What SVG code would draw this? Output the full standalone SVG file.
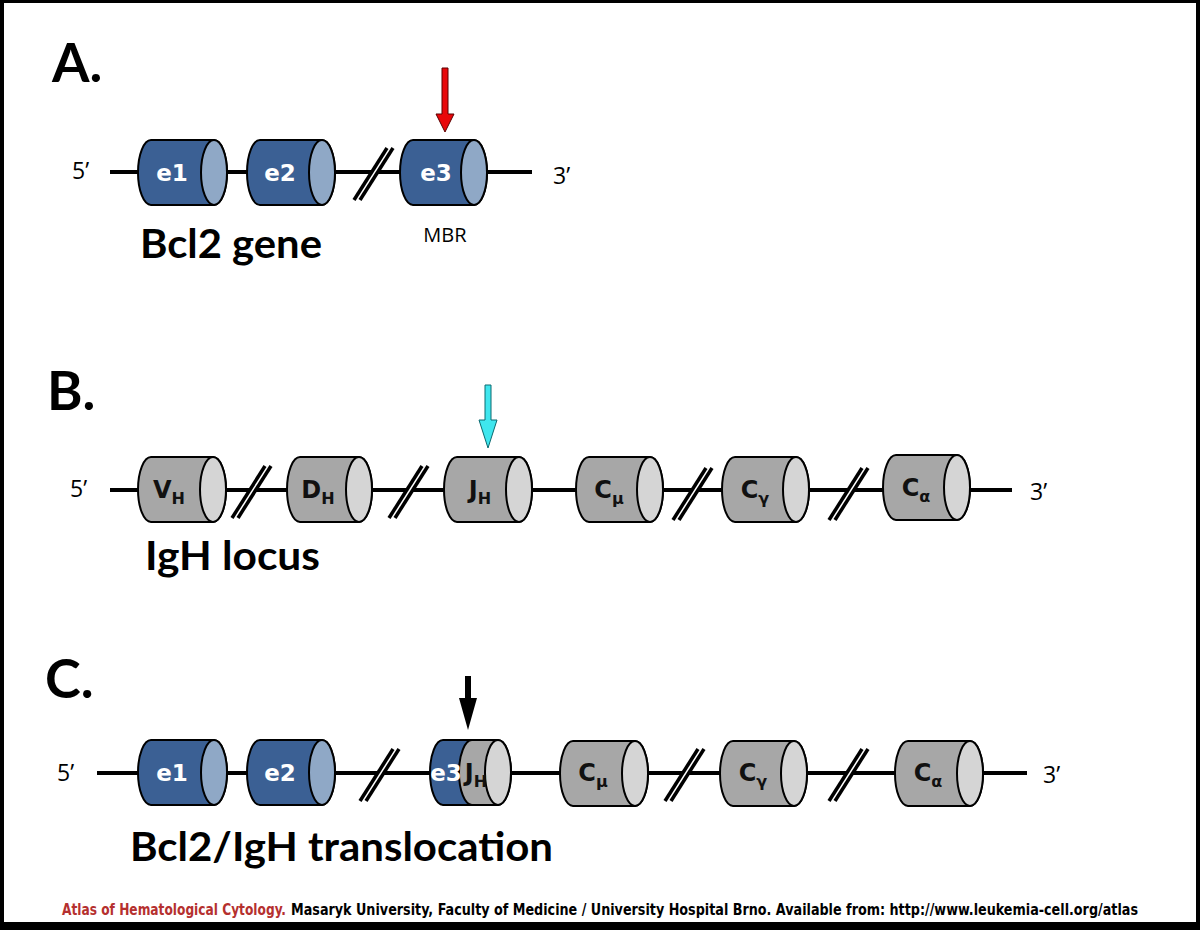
<svg xmlns="http://www.w3.org/2000/svg" xmlns:xlink="http://www.w3.org/1999/xlink" width="1200" height="930" viewBox="0 0 1200 930">
<style>
.dna{stroke:#000;stroke-width:4;fill:none}
.bb{fill:#3b6094;stroke:#000;stroke-width:2}
.bc{fill:#8fa8c6;stroke:#000;stroke-width:2}
.gb{fill:#a7a7a7;stroke:#000;stroke-width:2}
.gc{fill:#d5d5d5;stroke:#000;stroke-width:2}
.el{font-family:"DejaVu Sans",sans-serif;font-weight:bold;font-size:23px;fill:#fff;text-anchor:middle}
.gl{font-family:"DejaVu Sans",sans-serif;font-weight:bold;font-size:24px;fill:#111;text-anchor:middle}
.sub{font-size:16px}
.head{font-family:Lato,"Open Sans",sans-serif;font-weight:bold;fill:#000}
.end{font-family:"Open Sans","DejaVu Sans",sans-serif;font-size:23px;fill:#000}
.foot{font-family:"Liberation Sans Narrow","DejaVu Sans Condensed","Liberation Sans",sans-serif;font-weight:bold;font-size:13px}
</style>
<defs>
<g id="slash">
<polygon points="-19,27 -13,27 20,-25 14,-25" fill="#fff"/>
<line x1="-19" y1="27" x2="14" y2="-25" stroke="#000" stroke-width="3.5"/>
<line x1="-13" y1="27" x2="20" y2="-25" stroke="#000" stroke-width="3.5"/>
</g>
</defs>
<rect x="0" y="0" width="1200" height="930" fill="#fff"/>
<path d="M0,0H1200V930H0Z M4,3V922H1196V3Z" fill="#000" fill-rule="evenodd"/>

<!-- Section A -->
<text class="head" x="52" y="82" font-size="54">A.</text>
<g id="connectors">
<line class="dna" x1="110" y1="172" x2="532" y2="172"/>
<line class="dna" x1="110" y1="490" x2="1012" y2="490"/>
<line class="dna" x1="97" y1="773" x2="1027" y2="773"/>
<use xlink:href="#slash" href="#slash" x="373" y="173"/>
<use xlink:href="#slash" href="#slash" x="251" y="491"/>
<use xlink:href="#slash" href="#slash" x="408" y="491"/>
<use xlink:href="#slash" href="#slash" x="692" y="493"/>
<use xlink:href="#slash" href="#slash" x="848" y="493"/>
<use xlink:href="#slash" href="#slash" x="379" y="774"/>
<use xlink:href="#slash" href="#slash" x="684" y="774"/>
<use xlink:href="#slash" href="#slash" x="848" y="774"/>
</g>
<text class="end" x="72" y="179">5’</text>
<text class="end" x="553" y="184">3’</text>

<g id="A-e1">
<path class="bb" d="M151,140H214A13,32.5 0 0 1 214,205H151A13,32.5 0 0 1 151,140Z"/>
<ellipse class="bc" cx="214" cy="172.5" rx="13" ry="32.5"/>
<text class="el" x="172" y="181">e1</text>
</g>
<g id="A-e2">
<path class="bb" d="M260,140H322A13,32.5 0 0 1 322,205H260A13,32.5 0 0 1 260,140Z"/>
<ellipse class="bc" cx="322" cy="172.5" rx="13" ry="32.5"/>
<text class="el" x="280" y="181">e2</text>
</g>
<g id="A-e3">
<path class="bb" d="M413,140H474A13,32.5 0 0 1 474,205H413A13,32.5 0 0 1 413,140Z"/>
<ellipse class="bc" cx="474" cy="172.5" rx="13" ry="32.5"/>
<text class="el" x="436" y="181">e3</text>
</g>
<g id="A-arrow">
<polygon points="442,68 448,68 448,114 454,114 445,132 436,114 442,114" fill="#e8070a" stroke="#5a0000" stroke-width="1"/>
</g>
<text x="445" y="242" font-family="'Open Sans','DejaVu Sans',sans-serif" font-size="20" text-anchor="middle">MBR</text>
<text class="head" x="140" y="258" font-size="41" textLength="182" lengthAdjust="spacingAndGlyphs">Bcl2 gene</text>

<!-- Section B -->
<text class="head" x="47" y="410" font-size="54">B.</text>
<text class="end" x="70" y="497">5’</text>
<text class="end" x="1030" y="500">3’</text>

<g id="B-VH">
<path class="gb" d="M151,457H213A13,32.5 0 0 1 213,522H151A13,32.5 0 0 1 151,457Z"/>
<ellipse class="gc" cx="213" cy="489.5" rx="13" ry="32.5"/>
<text class="gl" x="169" y="498">V<tspan class="sub" dy="6">H</tspan></text>
</g>
<g id="B-DH">
<path class="gb" d="M300,457H359A13,32.5 0 0 1 359,522H300A13,32.5 0 0 1 300,457Z"/>
<ellipse class="gc" cx="359" cy="489.5" rx="13" ry="32.5"/>
<text class="gl" x="318" y="498">D<tspan class="sub" dy="6">H</tspan></text>
</g>
<g id="B-JH">
<path class="gb" d="M457,457H519A13,32.5 0 0 1 519,522H457A13,32.5 0 0 1 457,457Z"/>
<ellipse class="gc" cx="519" cy="489.5" rx="13" ry="32.5"/>
<text class="gl" x="480" y="498">J<tspan class="sub" dy="6">H</tspan></text>
</g>
<g id="B-Cmu">
<path class="gb" d="M589,457H650A13,32.5 0 0 1 650,522H589A13,32.5 0 0 1 589,457Z"/>
<ellipse class="gc" cx="650" cy="489.5" rx="13" ry="32.5"/>
<text class="gl" x="609" y="498">C<tspan class="sub" dy="6">μ</tspan></text>
</g>
<g id="B-Cgamma">
<path class="gb" d="M735,457H796A13,32.5 0 0 1 796,522H735A13,32.5 0 0 1 735,457Z"/>
<ellipse class="gc" cx="796" cy="489.5" rx="13" ry="32.5"/>
<text class="gl" x="755" y="498">C<tspan class="sub" dy="6">γ</tspan></text>
</g>
<g id="B-Calpha">
<path class="gb" d="M896,455H957A13,32.5 0 0 1 957,520H896A13,32.5 0 0 1 896,455Z"/>
<ellipse class="gc" cx="957" cy="487.5" rx="13" ry="32.5"/>
<text class="gl" x="916" y="496">C<tspan class="sub" dy="6">α</tspan></text>
</g>
<g id="B-arrow">
<polygon points="485,385 491,385 491,420 497,420 488,448 479,420 485,420" fill="#3fe6ee" stroke="#0b6a70" stroke-width="1"/>
</g>
<text class="head" x="145" y="570" font-size="41" textLength="175" lengthAdjust="spacingAndGlyphs">IgH locus</text>

<!-- Section C -->
<text class="head" x="45" y="698" font-size="54">C.</text>
<text class="end" x="57" y="781">5’</text>
<text class="end" x="1043" y="783">3’</text>

<g id="C-e1">
<path class="bb" d="M151,740H214A13,32.5 0 0 1 214,805H151A13,32.5 0 0 1 151,740Z"/>
<ellipse class="bc" cx="214" cy="772.5" rx="13" ry="32.5"/>
<text class="el" x="172" y="781">e1</text>
</g>
<g id="C-e2">
<path class="bb" d="M260,740H322A13,32.5 0 0 1 322,805H260A13,32.5 0 0 1 260,740Z"/>
<ellipse class="bc" cx="322" cy="772.5" rx="13" ry="32.5"/>
<text class="el" x="280" y="781">e2</text>
</g>
<g id="C-e3JH">
<path class="bb" d="M443,740H480V805H443A13,32.5 0 0 1 443,740Z"/>
<path class="gb" d="M472,740H498A13,32.5 0 0 1 498,805H472A13,32.5 0 0 1 472,740Z"/>
<ellipse class="gc" cx="498" cy="772.5" rx="13" ry="32.5"/>
<text class="el" x="446" y="781">e3</text>
<text class="gl" x="476" y="781" font-size="22">J<tspan class="sub" dy="6">H</tspan></text>
</g>
<g id="C-Cmu">
<path class="gb" d="M573,741H635A13,32.5 0 0 1 635,806H573A13,32.5 0 0 1 573,741Z"/>
<ellipse class="gc" cx="635" cy="773.5" rx="13" ry="32.5"/>
<text class="gl" x="593" y="781">C<tspan class="sub" dy="6">μ</tspan></text>
</g>
<g id="C-Cgamma">
<path class="gb" d="M733,741H794A13,32.5 0 0 1 794,806H733A13,32.5 0 0 1 733,741Z"/>
<ellipse class="gc" cx="794" cy="773.5" rx="13" ry="32.5"/>
<text class="gl" x="753" y="781">C<tspan class="sub" dy="6">γ</tspan></text>
</g>
<g id="C-Calpha">
<path class="gb" d="M908,741H970A13,32.5 0 0 1 970,806H908A13,32.5 0 0 1 908,741Z"/>
<ellipse class="gc" cx="970" cy="773.5" rx="13" ry="32.5"/>
<text class="gl" x="928" y="781">C<tspan class="sub" dy="6">α</tspan></text>
</g>
<g id="C-arrow">
<polygon points="465,676 471,676 471,698 477,698 468,730 459,698 465,698" fill="#000"/>
</g>
<text class="head" x="130" y="861" font-size="41" textLength="423" lengthAdjust="spacingAndGlyphs">Bcl2/IgH translocation</text>

<!-- Footer -->
<g transform="translate(0,915) scale(1,1.25)">
<text class="foot" x="62" y="0" fill="#b5302f" textLength="224" lengthAdjust="spacingAndGlyphs">Atlas of Hematological Cytology.</text>
<text class="foot" x="291" y="0" fill="#000" textLength="847" lengthAdjust="spacingAndGlyphs">Masaryk University, Faculty of Medicine / University Hospital Brno. Available from: http://www.leukemia-cell.org/atlas</text>
</g>
</svg>
